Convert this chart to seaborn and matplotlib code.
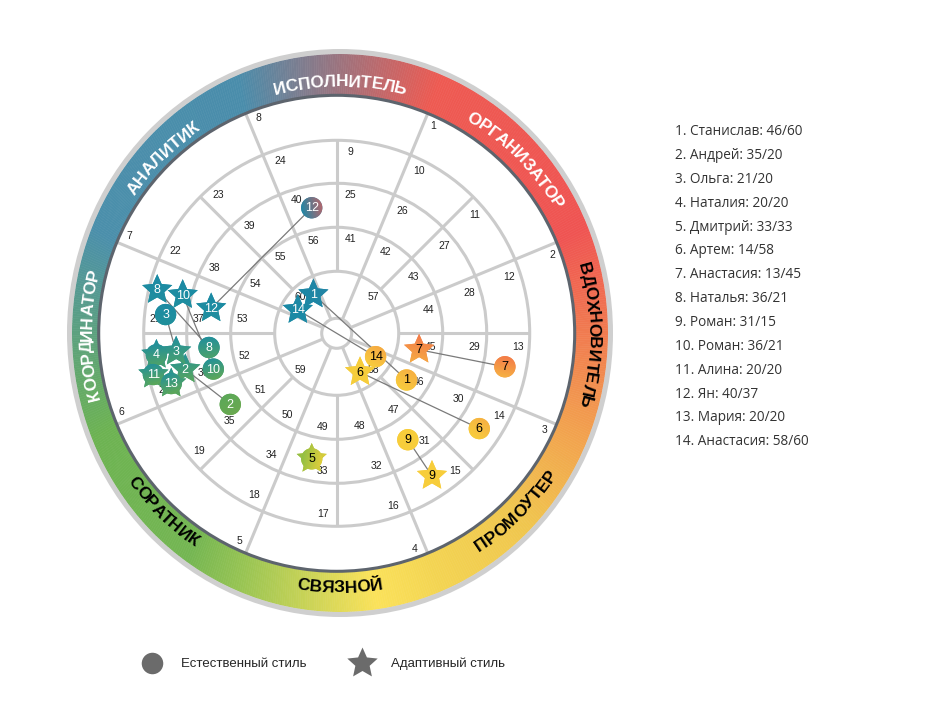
import numpy as np
import pandas as pd
import matplotlib
matplotlib.use('Agg')
import matplotlib.pyplot as plt
import seaborn as sns
from matplotlib.patches import Circle, Ellipse, Polygon
from matplotlib.lines import Line2D
from matplotlib.path import Path
from matplotlib.font_manager import FontProperties
from matplotlib.colors import to_rgb

# team members: natural style cell / adaptive style cell
names = ['Станислав', 'Андрей', 'Ольга', 'Наталия', 'Дмитрий', 'Артем', 'Анастасия',
         'Наталья', 'Роман', 'Роман', 'Алина', 'Ян', 'Мария', 'Анастасия']
natural = [46, 35, 21, 20, 33, 14, 13, 36, 31, 36, 20, 40, 20, 58]
adaptive = [60, 20, 20, 20, 33, 58, 45, 21, 15, 21, 20, 37, 20, 60]

roles = ['ИСПОЛНИТЕЛЬ', 'ОРГАНИЗАТОР', 'ВДОХНОВИТЕЛЬ', 'ПРОМОУТЕР',
         'СВЯЗНОЙ', 'СОРАТНИК', 'КООРДИНАТОР', 'АНАЛИТИК']
role_ink = ['white', 'white', 'black', 'black', 'black', 'black', 'white', 'white']
role_cw = [True, True, True, False, False, False, True, True]

legend_labels = ['Естественный стиль', 'Адаптивный стиль']

# colour of the outer band, by compass angle (deg, clockwise from top)
stop_deg = [-22.5, 22.5, 67.5, 112.5, 135, 157.5, 172, 202.5, 215, 247.5, 292.5, 337.5]
stop_col = ['#4a8dab', '#ee5a52', '#ef5452', '#f2a24e', '#f0c64e', '#f3d452',
            '#fbe25a', '#97c453', '#74b652', '#6db352', '#4b8fab', '#4a8dab']
# marker colours (a bit more saturated than the band)
mstop_deg = [-22.5, -10, 5, 22.5, 67.5, 95, 112.5, 125, 157.5, 180, 202.5, 225, 247.5, 262, 292.5, 337.5]
mstop_col = ['#1b87a6', '#3a7fa5', '#ee5a52', '#ef5350', '#ef5350', '#f47f48', '#f6b043', '#f8cd3c',
             '#f8cd3c', '#e6cf3a', '#8cbf45', '#6aa84f', '#5ea956', '#22919a', '#1b8aa6', '#1b87a6']

CX, CY = 336.7, 333.3           # wheel centre
RINGS = [15, 62, 106, 150, 193, 238]
EX, EY, EA, EB = 340, 333, 268, 279   # outer edge of the band (slightly oval)
TX, TY, TR = 340, 335, 253       # baseline circle of the role names
GRID = '#cbcbcb'
STAR = Path.unit_regular_star(5, 0.47)
CIRC = Path.unit_circle()
S_STAR, S_CIRC = 520, 235


def xy(a, r):
    t = np.radians(a)
    return CX + r * np.sin(t), CY - r * np.cos(t)


def outer(a, grow=0.0):
    t = np.radians(a)
    return EX + (EA + grow) * np.sin(t), EY - (EB + grow) * np.cos(t)


def interp_color(a, degs, cols):
    a = (a + 22.5) % 360 - 22.5
    rgb = np.array([to_rgb(c) for c in cols])
    return tuple(float(np.interp(a, degs, rgb[:, j])) for j in range(3))


def band_color(a):
    return interp_color(a, stop_deg, stop_col)


def marker_color(a):
    return interp_color(a, mstop_deg, mstop_col)


def cell_pos(n):
    if n <= 8:
        return 45.0 * n, 215
    if n <= 24:
        return 22.5 * (n - 9) + 11.25, 171.5
    if n <= 40:
        return 22.5 * (n - 25) + 11.25, 128
    if n <= 56:
        return 22.5 * (n - 41) + 11.25, 84
    return 45.0 + 90 * (n - 57), 44


sns.set_style('white')
plt.rcParams['font.family'] = ['Liberation Sans', 'DejaVu Sans']

fig = plt.figure(figsize=(9.5, 7.14), dpi=100)
ax = fig.add_axes([0, 0, 1, 1])
ax.set_xlim(0, 950)
ax.set_ylim(714, 0)
ax.set_autoscale_on(False)
ax.axis('off')

# outer coloured band
step = 0.5
for a in np.arange(-22.5, 337.5, step):
    c = band_color(a + step / 2)
    pts = [xy(a, RINGS[-1]), xy(a + step, RINGS[-1]), outer(a + step), outer(a)]
    ax.add_patch(Polygon(pts, closed=True, facecolor=c, edgecolor=c, lw=0.4, zorder=1))
ax.add_patch(Ellipse((EX, EY), 2 * EA + 5, 2 * EB + 5, fill=False, ec='#cfcfcf', lw=3.6, zorder=2))
ax.add_patch(Circle((CX, CY), RINGS[-1], fill=False, ec='#5d646d', lw=2.2, zorder=2))

# grid
for r in RINGS[:-1]:
    ax.add_patch(Circle((CX, CY), r, fill=False, ec=GRID, lw=2.2, zorder=1))
for k in range(8):
    a = 22.5 + 45 * k
    (x0, y0), (x1, y1) = xy(a, RINGS[0]), xy(a, RINGS[-1] - 1)
    ax.plot([x0, x1], [y0, y1], color=GRID, lw=2.2, zorder=1, solid_capstyle='butt')
    a = 45 * k
    (x0, y0), (x1, y1) = xy(a, RINGS[1]), xy(a, RINGS[4])
    ax.plot([x0, x1], [y0, y1], color=GRID, lw=2.2, zorder=1, solid_capstyle='butt')

# cell numbers
num_kw = dict(fontsize=7.5, color='#222222', ha='center', va='center', zorder=2)
for n in range(1, 9):
    b = 22.5 + 45 * (n - 1)
    x, y = xy(b, 229)
    t = np.radians(b)
    ax.text(x + 10 * np.cos(t), y + 10 * np.sin(t), str(n), **num_kw)
for start, r_out in ((9, RINGS[4]), (25, RINGS[3]), (41, RINGS[2])):
    for k in range(16):
        b = 22.5 * k
        x, y = xy(b, r_out - 12)
        t = np.radians(b)
        ax.text(x + 14 * np.cos(t), y + 14 * np.sin(t), str(start + k), **num_kw)
for k in range(4):
    x, y = xy(45 + 90 * k, 52)
    ax.text(x, y, str(57 + k), **num_kw)

# role names along the band
renderer = fig.canvas.get_renderer()
fp_role = FontProperties(family='Liberation Sans', weight='bold', size=12.5)
for i, label in enumerate(roles):
    widths = [renderer.get_text_width_height_descent(label[:j], fp_role, ismath=False)[0] if j else 0.0
              for j in range(len(label) + 1)]
    total = widths[-1]
    for j, ch in enumerate(label):
        d = np.degrees(((widths[j] + widths[j + 1]) / 2 - total / 2) / TR)
        if role_cw[i]:
            a = 45 * i + d
            rot = -a
        else:
            a = 45 * i - d
            rot = 180 - a
        t = np.radians(a)
        ax.text(TX + TR * np.sin(t), TY - TR * np.cos(t), ch, rotation=rot, rotation_mode='anchor',
                ha='center', va='center', color=role_ink[i], fontproperties=fp_role, zorder=3)

# markers: people sharing a cell are spread around its centre
slots = {}
for i in range(len(names)):
    for cell in (natural[i], adaptive[i]):
        slots.setdefault(cell, [])
        if i + 1 not in slots[cell]:
            slots[cell].append(i + 1)


def place(cell, pid):
    a, r = cell_pos(cell)
    x, y = xy(a, r)
    who = slots[cell]
    n = len(who)
    if n > 1:
        k = who.index(pid)
        if n == 2:
            rr, phi = 11, (0 if k == 0 else 180)
        elif n == 3:
            rr, phi = 15, 180 - 120 * k
        else:
            rr, phi = 17, 250 + 360 * k / n
        phi = np.radians(phi)
        t = np.radians(a)
        tx, ty = np.cos(t), np.sin(t)
        rx, ry = np.sin(t), -np.cos(t)
        x += rr * (np.cos(phi) * tx + np.sin(phi) * rx)
        y += rr * (np.cos(phi) * ty + np.sin(phi) * ry)
    return x, y


rows = []
for i in range(len(names)):
    for kind, cell in (('nat', natural[i]), ('adp', adaptive[i])):
        x, y = place(cell, i + 1)
        ang = np.degrees(np.arctan2(x - CX, -(y - CY)))
        rows.append(dict(pid=i + 1, kind=kind, key=f'{kind}{i + 1}', x=x, y=y, ang=ang,
                         color=marker_color(ang)))
df = pd.DataFrame(rows)
palette = dict(zip(df['key'], df['color']))

for pid, g in df.groupby('pid'):
    ax.plot(g['x'], g['y'], color='#7a7a7a', lw=0.9, zorder=4)

stars = df[df['kind'] == 'adp']
circles = df[df['kind'] == 'nat']
sns.scatterplot(data=stars, x='x', y='y', hue='key', palette=palette, marker=STAR, s=S_STAR,
                linewidth=0, legend=False, ax=ax, zorder=5)
sns.scatterplot(data=circles, x='x', y='y', hue='key', palette=palette, marker='o', s=S_CIRC,
                linewidth=0, legend=False, ax=ax, zorder=6)


def paint_gradient(x, y, path, s, a, zorder):
    # soft colour shift along the wheel direction, clipped to the marker shape
    size_px = np.sqrt(s) * fig.dpi / 72
    h = size_px / 2 + 1
    t = np.radians(a)
    g = np.linspace(-1, 1, 40)
    gx, gy = np.meshgrid(g, g)
    p = np.clip((gx * np.cos(t) + gy * np.sin(t)) * 0.5 + 0.5, 0, 1)[..., None]
    c0 = np.array(marker_color(a - 12))
    c1 = np.array(marker_color(a + 12))
    img = c0 * (1 - p) + c1 * p
    im = ax.imshow(img, extent=(x - h, x + h, y + h, y - h), interpolation='bilinear',
                   aspect='auto', zorder=zorder)
    verts = path.vertices * (size_px / 2) * np.array([1, -1]) + np.array([x, y])
    im.set_clip_path(Path(verts, path.codes), transform=ax.transData)


for _, row in stars.iterrows():
    paint_gradient(row['x'], row['y'], STAR, S_STAR, row['ang'], 5.1)
for _, row in circles.iterrows():
    paint_gradient(row['x'], row['y'], CIRC, S_CIRC, row['ang'], 6.1)

done = set()
for _, row in df.iterrows():
    spot = (row['pid'], round(row['x'], 1), round(row['y'], 1))
    if spot in done:
        continue
    done.add(spot)
    r, g, b = row['color']
    ink = 'black' if 0.299 * r + 0.587 * g + 0.114 * b > 0.6 else 'white'
    ax.text(row['x'], row['y'] + 0.5, str(row['pid']), color=ink, fontsize=9,
            ha='center', va='center', zorder=7)

# list of people on the right
for i, name in enumerate(names):
    ax.text(675, 131.7 + 23.85 * i, f'{i + 1}. {name}: {natural[i]}/{adaptive[i]}',
            fontsize=9.8, color='#333333', ha='left', va='center', family=['Open Sans', 'DejaVu Sans'])

# marker legend
handles = [Line2D([], [], marker='o', ls='', color='#6b6b6b', markersize=15.5, markeredgewidth=0),
           Line2D([], [], marker=STAR, ls='', color='#6b6b6b', markersize=23, markeredgewidth=0)]
fig.legend(handles, legend_labels, ncol=2, loc='center left', bbox_to_anchor=(139 / 950, 1 - 664 / 714),
           frameon=False, prop=FontProperties(family='Liberation Sans', size=9.5),
           handlelength=2.0, handletextpad=1.2, columnspacing=3.2, borderpad=0, borderaxespad=0)

ax.set_xlim(0, 950)
ax.set_ylim(714, 0)
fig.savefig('out.png', dpi=100)
